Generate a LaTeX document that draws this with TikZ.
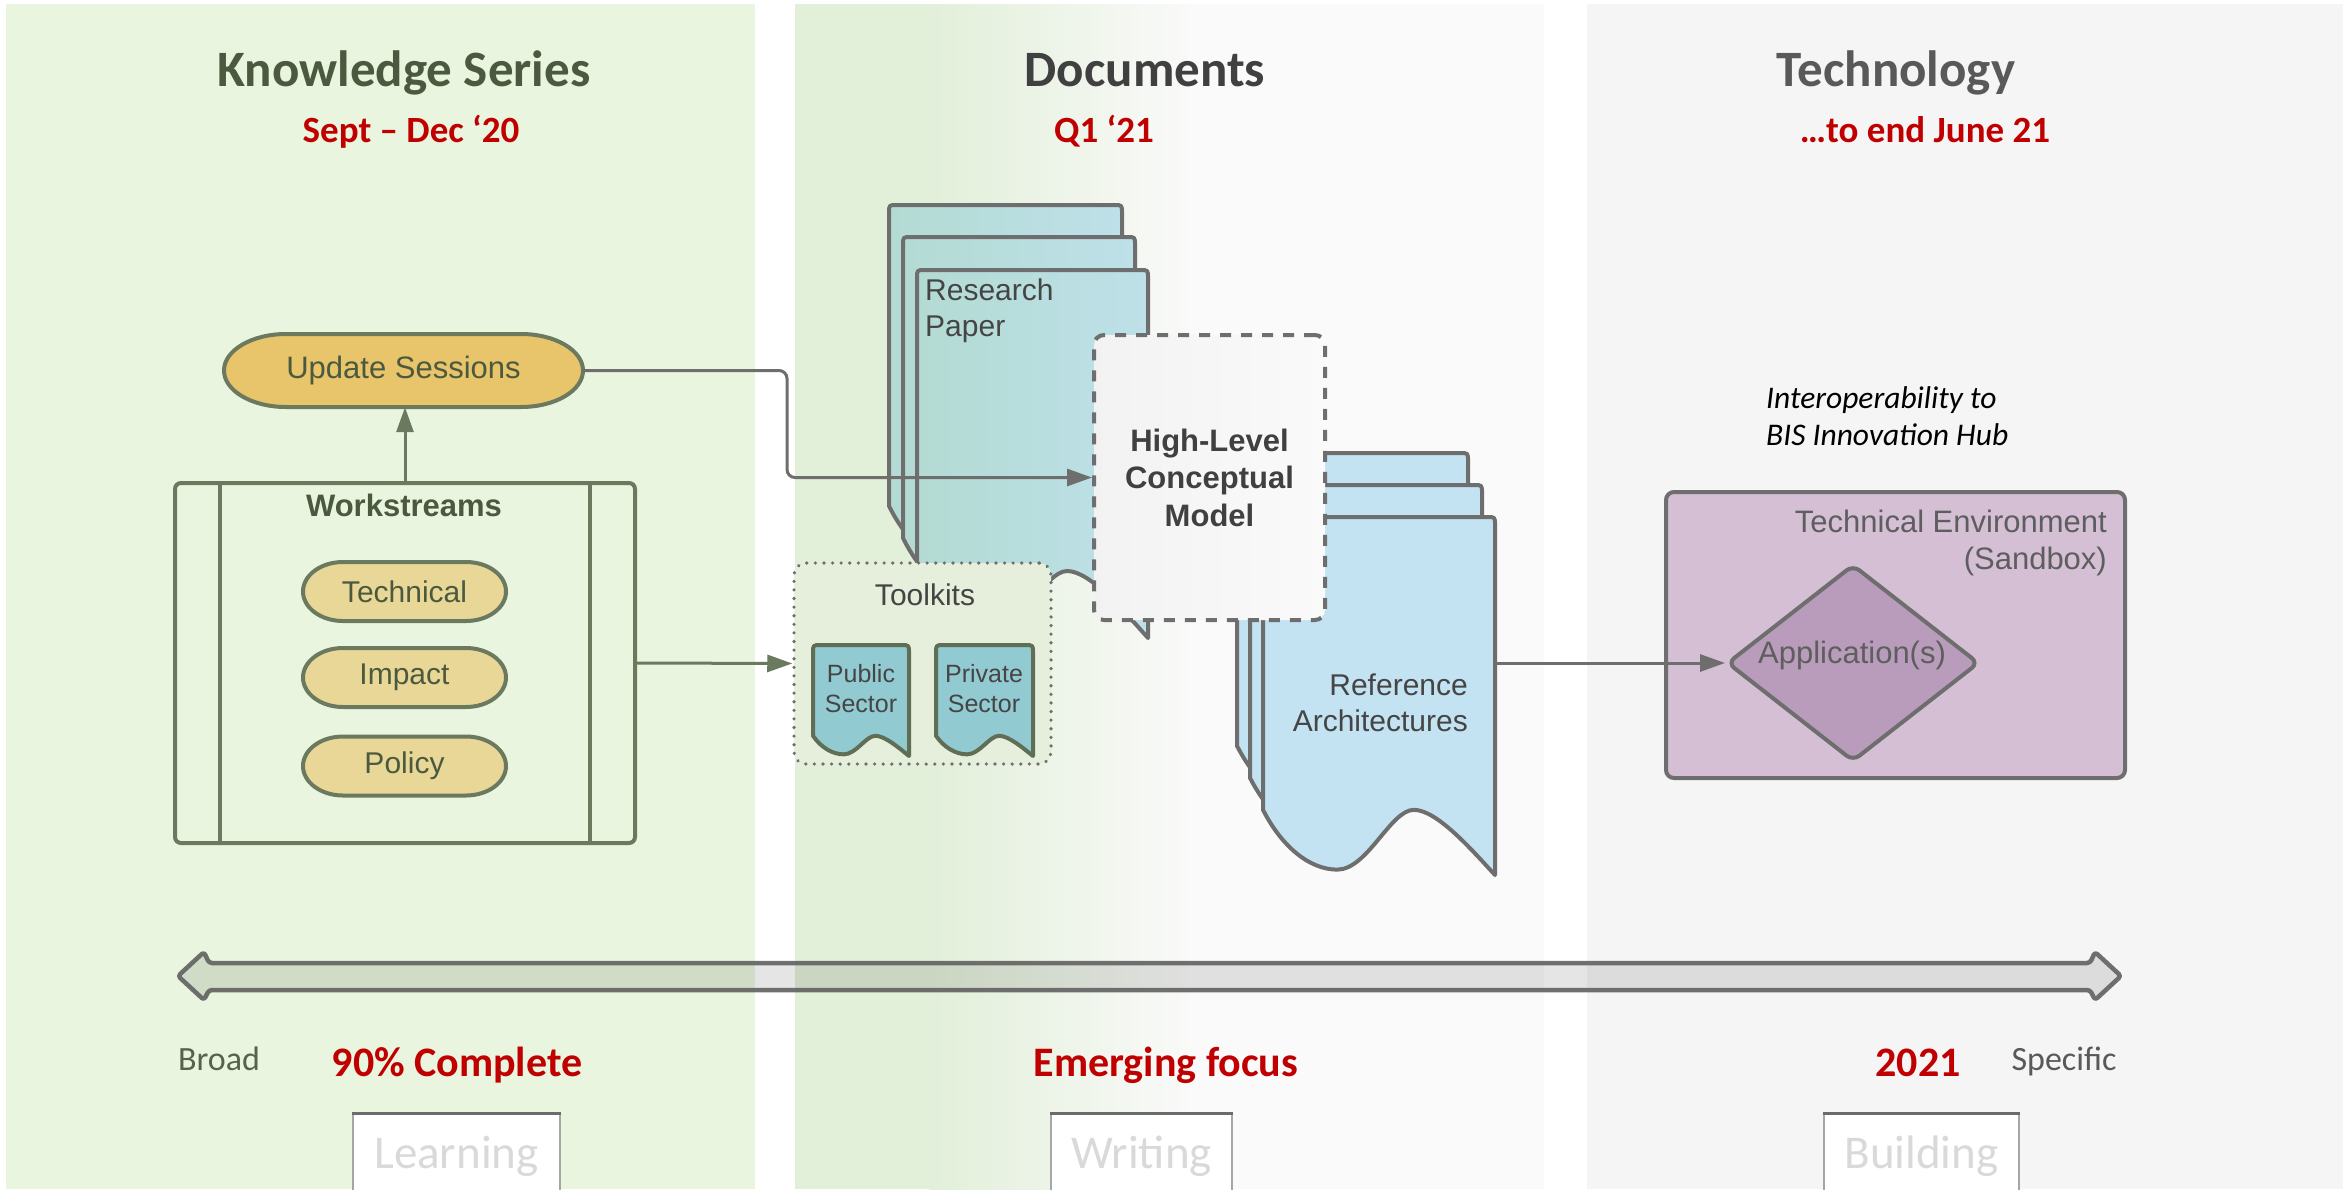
\documentclass[tikz,border=0pt]{standalone}
\usepackage{fontspec}
\setmainfont{Liberation Sans}
\newfontfamily\calfont{Carlito}
\usetikzlibrary{shapes.geometric,arrows.meta}
\definecolor{pA}{HTML}{E9F5DE}
\definecolor{pB}{HTML}{E2EFD9}
\definecolor{pBw}{HTML}{FAFAFA}
\definecolor{pC}{HTML}{F5F5F5}
\definecolor{hA}{HTML}{4B5A3E}
\definecolor{hB}{HTML}{404040}
\definecolor{hC}{HTML}{595959}
\definecolor{myred}{HTML}{C00000}
\definecolor{lnG}{HTML}{6B7A5E}
\definecolor{gold}{HTML}{E8C46B}
\definecolor{goldL}{HTML}{E9D798}
\definecolor{lnD}{HTML}{6E6E6E}
\definecolor{resL}{HTML}{B3DBD3}
\definecolor{resR}{HTML}{BEE0E9}
\definecolor{refF}{HTML}{C3E3F3}
\definecolor{tkF}{HTML}{92CAD2}
\definecolor{tkBg}{HTML}{E5EFDC}
\definecolor{envF}{HTML}{D4BFD4}
\definecolor{appF}{HTML}{B99CBB}
\definecolor{boxT}{HTML}{D9D9D9}
\definecolor{txD}{HTML}{454545}
\definecolor{txT}{HTML}{5E5E5E}
\definecolor{brd}{HTML}{56624C}
\newcommand\DocShape[5]{%
 \path[#5] (#1,{#2+0.818*#4}) -- (#1,{#2+8}) .. controls (#1,#2) .. ({#1+8},#2) -- ({#1+#3-8},#2) .. controls ({#1+#3},#2) .. ({#1+#3},{#2+8}) -- ({#1+#3},{#2+#4}) .. controls ({#1+0.9*#3},{#2+0.93*#4}) and ({#1+0.75*#3},{#2+0.818*#4}) .. ({#1+0.65*#3},{#2+0.818*#4}) .. controls ({#1+0.55*#3},{#2+0.818*#4}) and ({#1+0.45*#3},{#2+0.985*#4}) .. ({#1+0.32*#3},{#2+0.985*#4}) .. controls ({#1+0.2*#3},{#2+0.985*#4}) and ({#1+0.08*#3},{#2+0.92*#4}) .. (#1,{#2+0.818*#4}) -- cycle;}
\newcommand\PillPath[6]{%
 \path[#6] ({#1+#3/2-#5},{#2-#4/2}) arc[start angle=-90, end angle=90, x radius=#5, y radius=#4/2] -- ({#1-#3/2+#5},{#2+#4/2}) arc[start angle=90, end angle=270, x radius=#5, y radius=#4/2] -- cycle;}
\tikzset{
 head/.style={font=\calfont\bfseries\fontsize{51}{60}\selectfont, anchor=base, inner sep=0},
 sub/.style={font=\calfont\bfseries\fontsize{37}{44}\selectfont, text=myred, anchor=base, inner sep=0},
 lbl/.style={font=\fontsize{30}{36}\selectfont, inner sep=0},
 pilltxt/.style={minimum width=203, minimum height=59, text=hA, font=\fontsize{30}{36}\selectfont},
 pillshape/.style={draw=lnG, line width=4, fill=goldL},
 con/.style={line width=3, -{Triangle[length=25,width=17]}},
 bbox/.style={draw=gray!70, line width=1.2, fill=white, minimum height=100, inner sep=0},
 btxt/.style={font=\calfont\fontsize{47}{56}\selectfont, text=boxT, anchor=base, inner sep=0},
 side/.style={font=\calfont\fontsize{34}{40}\selectfont, anchor=base, inner sep=0},
 big/.style={font=\calfont\bfseries\fontsize{42}{50}\selectfont, text=myred, anchor=base, inner sep=0},
}
\begin{document}
\begin{tikzpicture}[x=1pt,y=-1pt]
\useasboundingbox (0,0) rectangle (2343,1189);
\clip (0,0) rectangle (2343,1189);
% panels
\fill[white] (0,0) rectangle (2343,1189);
\fill[pA] (6,4) rectangle (755,1189);
\fill[pB] (795,4) rectangle (930,1189);
\shade[left color=pB, right color=pBw] (929,4) rectangle (1200,1189);
\fill[pBw] (1199,4) rectangle (1544,1189);
\fill[pC] (1587,4) rectangle (2343,1189);
% headings
\node[head, text=hA] (h1) at (404,86) {Knowledge Series};
\node[head, text=hB] (h2) at (1145,86) {Documents};
\node[head, text=hC] (h3) at (1896,86) {Technology};
\node[sub] (s1) at (411,142) {Sept – Dec ‘20};
\node[sub] (s2) at (1104,142) {Q1 ‘21};
\node[sub] (s3) at (1925,142) {…to end June 21};
% research paper stack
\DocShape{889}{205}{233}{368}{draw=lnD, line width=4, line join=round, left color=resL, right color=resR}
\DocShape{903}{237}{232}{368}{draw=lnD, line width=4, line join=round, left color=resL, right color=resR}
\DocShape{917}{270}{231}{368}{draw=lnD, line width=4, line join=round, left color=resL, right color=resR}
\node[lbl, text=txD, anchor=west, align=left] (resT) at (925,311) {Research\\Paper};
% reference architectures stack
\DocShape{1237}{453}{231}{358}{draw=lnD, line width=4, line join=round, fill=refF}
\DocShape{1250}{485}{232}{358}{draw=lnD, line width=4, line join=round, fill=refF}
\DocShape{1263}{517}{232}{358}{draw=lnD, line width=4, line join=round, fill=refF}
\node[inner sep=0, minimum width=232, minimum height=358] (ref) at (1379,696) {};
\node[lbl, text=txD, anchor=east, align=right] (refT) at (1468,703) {Reference\\Architectures};
% toolkits
\node[draw=lnD, line width=3.5, dash pattern=on 0.1pt off 8.5pt, line cap=round, fill=tkBg, rounded corners=12, minimum width=257, minimum height=201] (tk) at (922.5,663.5) {};
\node[lbl, text=txD] (tkT) at (925,595) {Toolkits};
\DocShape{813}{645}{96}{111}{draw=lnG!90!black, line width=4, line join=round, fill=tkF}
\DocShape{936}{645}{97}{111}{draw=lnG!90!black, line width=4, line join=round, fill=tkF}
\node[font=\fontsize{25}{30}\selectfont, text=txD, align=center, inner sep=0] (pub) at (861,689) {Public\\Sector};
\node[font=\fontsize{25}{30}\selectfont, text=txD, align=center, inner sep=0] (pri) at (984,689) {Private\\Sector};
% high level conceptual model
\node[draw=lnD, line width=4, dash pattern=on 11pt off 10pt, left color=black!5!white, right color=pBw, rounded corners=10, minimum width=231, minimum height=285, inner sep=0, font=\bfseries\fontsize{31}{37.5}\selectfont, text=hB, align=center] (hlcm) at (1209.5,477.5) {High-Level\\Conceptual\\Model};
% knowledge series
\PillPath{403.5}{370.5}{359}{73}{62}{draw=lnG, line width=4, fill=gold}
\node[minimum width=359, minimum height=73, text=hA, font=\fontsize{31}{37}\selectfont] (upd) at (403.5,370.5) {Update Sessions};
\node[draw=lnG, line width=4, rounded corners=6, minimum width=460, minimum height=360] (ws) at (405,663) {};
\draw[lnG, line width=4] ([xshift=47]ws.north west) -- ([xshift=47]ws.south west);
\draw[lnG, line width=4] ([xshift=-47]ws.north east) -- ([xshift=-47]ws.south east);
\node[font=\bfseries\fontsize{31}{37}\selectfont, text=hA, inner sep=0] (wsT) at (404,505) {Workstreams};
\PillPath{404.5}{591.5}{203}{59}{40}{pillshape}
\node[pilltxt] (tech) at (404.5,591.5) {Technical};
\PillPath{404.5}{677.5}{203}{59}{40}{pillshape}
\node[pilltxt] (imp) at (404.5,677.5) {Impact};
\PillPath{404.5}{766}{203}{59}{40}{pillshape}
\node[pilltxt] (pol) at (404.5,766) {Policy};
% technology
\node[font=\calfont\itshape\fontsize{31.5}{37}\selectfont, text=black, anchor=west, align=left, inner sep=0] (interop) at (1766,416.5) {Interoperability to\\BIS Innovation Hub};
\node[draw=lnD, line width=4, fill=envF, rounded corners=8, minimum width=459, minimum height=286] (env) at (1895.5,635) {};
\node[font=\fontsize{31}{37}\selectfont, inner sep=0, text=txT, anchor=east, align=right] (envT) at (2107,542.5) {Technical Environment\\(Sandbox)};
\node[diamond, draw=lnD, line width=4, fill=appF, rounded corners=8, minimum width=252, minimum height=197, inner sep=0] (app) at (1853,663) {};
\node[font=\fontsize{31}{37}\selectfont, text=txT, inner sep=0] (appT) at (1852,655) {Application(s)};
% connectors
\draw[con, lnG] (ws.north) -- (ws.north |- upd.south);
\draw[con, lnD!90!lnG, rounded corners=8] (upd.east) -| ([xshift=-305]hlcm.west) -- (hlcm.west);
\draw[con, lnG] (ws.east) -- (tk.west);
\draw[con, lnD] (app.west -| ref.east) -- (app.west);
% scale arrow
\draw[line width=4.5, draw=black!62, draw opacity=0.9, fill=black, fill opacity=0.1, rounded corners=3, line join=round] (178,976) -- (204,952) -- (209,963) -- (2090,963) -- (2095,952) -- (2121,976) -- (2095,1000) -- (2090,990) -- (209,990) -- (204,1000) -- cycle;
\node[side, text=brd] (broad) at (219,1070) {Broad};
\node[side, text=hC] (spec) at (2064,1070) {Specific};
\node[big] (b1) at (457,1076) {90\% Complete};
\node[big] (b2) at (1166,1076) {Emerging focus};
\node[big] (b3) at (1918,1076) {2021};
% bottom boxes
\node[bbox, minimum width=207, anchor=north] (learn) at (456.5,1113) {};
\node[bbox, minimum width=181, anchor=north] (write) at (1141.5,1113) {};
\node[bbox, minimum width=195, anchor=north] (build) at (1921.5,1113) {};
\foreach \b in {learn,write,build}{\draw[line width=3, black!58] (\b.north west) -- (\b.north east);}
\node[btxt] (learnT) at (456.5,1168) {Learning};
\node[btxt] (writeT) at (1141.5,1168) {Writing};
\node[btxt] (buildT) at (1921.5,1168) {Building};
\end{tikzpicture}
\end{document}
